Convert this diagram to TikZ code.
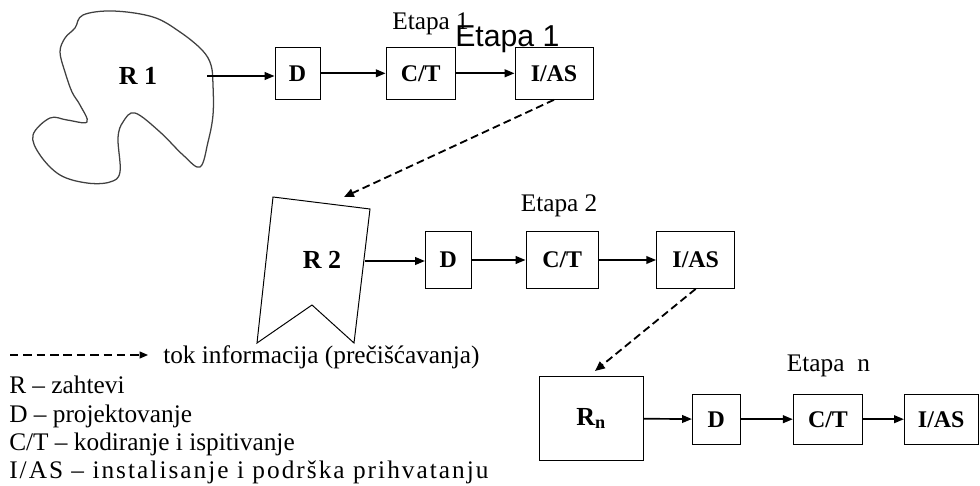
\documentclass[tikz,border=0pt]{standalone}
\usepackage{fontspec}
\setmainfont{Liberation Serif}
\newfontfamily\sansfont{Liberation Sans}
\usetikzlibrary{arrows.meta}

\begin{document}
\begin{tikzpicture}[x=0.025cm,y=-0.025cm,
  box/.style={draw, line width=0.7pt, inner sep=0pt, font=\fontsize{17}{20}\selectfont\bfseries},
  arr/.style={-{Triangle[length=7pt,width=5.5pt]}, line width=1.2pt},
  flow/.style={-{Triangle[length=7pt,width=6pt]}, line width=1.3pt, dash pattern=on 5.5pt off 3pt},
  rlabel/.style={font=\fontsize{18.5}{20}\selectfont\bfseries},
  etapa/.style={inner sep=0pt, anchor=base west, font=\fontsize{18}{20}\selectfont},
  leg/.style={inner sep=0pt, anchor=base west, font=\fontsize{18}{20}\selectfont}]
\useasboundingbox (0,0) rectangle (980,486);
% R1 blob
\draw[line width=0.9pt, black!75] plot[smooth cycle, tension=0.6] coordinates {
  (83,15) (113,11) (153,17) (180,32) (202,50) (211,65) (213,85) (213,115)
  (208,142) (200,167) (183,155) (160,132) (135,113) (123,122) (118,138)
  (120,172) (110,182) (87,183) (60,175) (40,155) (33,135) (50,118) (67,120)
  (87,122) (80,105) (72,92) (65,72) (60,52) (65,38) (75,28)};
\node[rlabel] (r1) at (138,76) {R 1};
\coordinate (r1e) at (207,76);
% R2 banner
\draw[line width=0.7pt] (273,197) -- (370,209) -- (354,343) -- (312,305) -- (257,343) -- cycle;
\node[rlabel] (r2) at (322,260) {R 2};
\coordinate (r2e) at (365,261);
% Rn
\node[draw, line width=0.7pt, minimum width=2.61cm, minimum height=2.12cm, rlabel] (rn) at (591.2,418.4) {R\textsubscript{n}};
% Stages: D -> C/T -> I/AS
\foreach \n/\y/\h/\xd/\dw/\xc/\cw/\xi/\iw in {
  1/73.3/1.3/297.5/1.125/420.7/1.73/554/1.95,
  2/260/1.42/448.2/1.14/562.2/1.81/695.7/1.955,
  3/419.2/1.26/716.2/1.19/828/1.735/941.2/1.84} {
  \node[box, minimum width=\dw cm, minimum height=\h cm] (d\n) at (\xd,\y) {D};
  \node[box, minimum width=\cw cm, minimum height=\h cm] (ct\n) at (\xc,\y) {C/T};
  \node[box, minimum width=\iw cm, minimum height=\h cm] (ias\n) at (\xi,\y) {I/AS};
  \draw[arr] (d\n) -- (ct\n);
  \draw[arr] (ct\n) -- (ias\n);
}
\draw[arr] (r1e) -- (r1e -| d1.west);
\draw[arr] (r2e) -- (r2e -| d2.west);
\draw[arr] (rn) -- (d3);
% Stage titles
\node[etapa] (e1) at (392,30) {Etapa 1};
\node[etapa, font=\sansfont\fontsize{21.5}{24}\selectfont] (e1s) at (455,46.7) {Etapa 1};
\node[etapa] (e2) at (520.5,211) {Etapa 2};
\node[etapa] (en) at (786.7,371.7) {Etapa\ \ n};
% Refinement flow
\coordinate (f1) at (344,197);
\coordinate (f2) at (595,371);
\draw[flow] (ias1.south) -- (f1);
\draw[flow] (ias2.south) -- (f2);
% Legend
\coordinate (l0) at (10,355);
\coordinate (l1) at (148,355);
\draw[-{Triangle[length=6pt,width=5pt]}, line width=0.8pt, dash pattern=on 6pt off 3.5pt] (l0) -- (l1);
\node[leg] (leg0) at (163,363) {tok informacija (prečišćavanja)};
\node[leg] (leg1) at (9,393) {R – zahtevi};
\node[leg] (leg2) at (9,422) {D – projektovanje};
\node[leg] (leg3) at (9,450) {C/T – kodiranje i ispitivanje};
\node[leg] (leg4) at (9,478) {\addfontfeatures{LetterSpace=8}I/AS – instalisanje i podrška prihvatanju};
\end{tikzpicture}
\end{document}
